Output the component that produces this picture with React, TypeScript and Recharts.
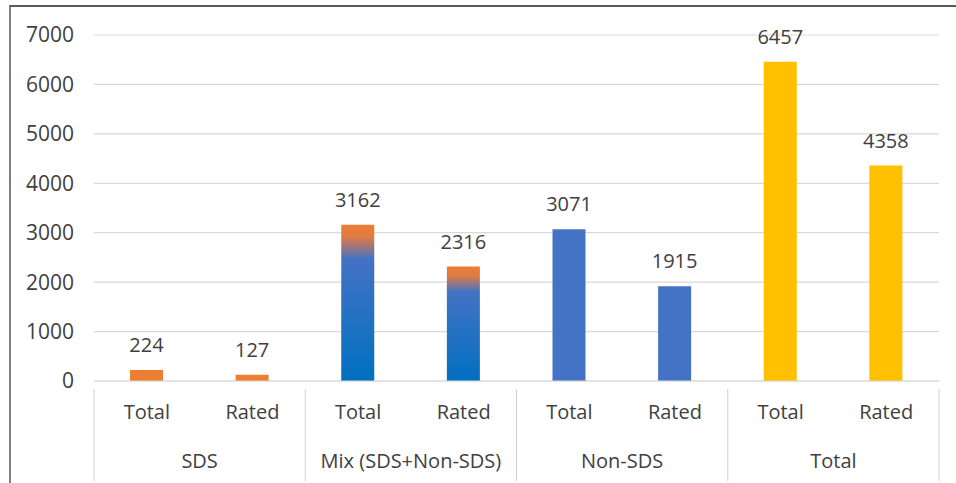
import React from 'react';
import { BarChart, Bar, XAxis, YAxis, CartesianGrid, Cell, LabelList } from 'recharts';

// Chart data
const groups = ['SDS', 'Mix (SDS+Non-SDS)', 'Non-SDS', 'Total'];
const subLabels = ['Total', 'Rated'];
const totals = [224, 3162, 3071, 6457];
const rated = [127, 2316, 1915, 4358];
const yTicks = [0, 1000, 2000, 3000, 4000, 5000, 6000, 7000];

// fills per group (Excel palette), mix uses a gradient
const FILLS = ['#ED7D31', 'url(#mixFill)', '#4472C4', '#FFC000'];

const data = groups.flatMap((g, gi) => [
  { name: subLabels[0], group: g, gi, value: totals[gi] },
  { name: subLabels[1], group: g, gi, value: rated[gi] },
]);

const W = 956;
const H = 483;
const LEFT = 94;
const RIGHT = 17;
const TOP = 35;
const BOTTOM = 102;
const BAND = (W - LEFT - RIGHT) / data.length;
const FONT = '"Open Sans", "Noto Sans", sans-serif';

const CategoryTick = (props: any) => {
  const { x, y, payload, index } = props;
  const item = data[index];
  const isFirst = index % 2 === 0;
  const left = x - BAND / 2;
  return (
    <g>
      <text x={x} y={y + 30} textAnchor="middle" fill="#404040" fontSize={20} fontFamily={FONT}>
        {payload.value}
      </text>
      {isFirst && (
        <>
          <line x1={left} y1={y} x2={left} y2={y + 92} stroke="#d0d0d0" strokeWidth={1} />
          <text x={left + BAND} y={y + 79} textAnchor="middle" fill="#404040" fontSize={20} fontFamily={FONT}>
            {item.group}
          </text>
        </>
      )}
      {index === data.length - 1 && (
        <line x1={x + BAND / 2} y1={y} x2={x + BAND / 2} y2={y + 92} stroke="#d0d0d0" strokeWidth={1} />
      )}
    </g>
  );
};

export default function App() {
  return (
    <div style={{ position: 'absolute', left: 0, top: 0, width: W, height: H, background: '#fff' }}>
      <div
        style={{
          position: 'absolute',
          left: 9,
          top: 5,
          right: 0,
          bottom: 0,
          borderTop: '2px solid #595959',
          borderLeft: '2px solid #7f7f7f',
        }}
      />
      <BarChart
        width={W}
        height={H}
        data={data}
        margin={{ top: TOP, right: RIGHT, bottom: 0, left: 0 }}
        barCategoryGap={0}
      >
        <defs>
          <linearGradient id="mixFill" x1="0" y1="0" x2="0" y2="1">
            <stop offset="0%" stopColor="#ED7D31" />
            <stop offset="8%" stopColor="#E07A45" />
            <stop offset="22%" stopColor="#4472C4" />
            <stop offset="100%" stopColor="#0070C0" />
          </linearGradient>
        </defs>
        <CartesianGrid vertical={false} stroke="#d9d9d9" strokeWidth={1.2} />
        <XAxis
          dataKey="name"
          height={BOTTOM}
          tickLine={false}
          axisLine={{ stroke: '#d9d9d9' }}
          tick={<CategoryTick />}
          interval={0}
        />
        <YAxis
          width={LEFT}
          domain={[0, 7000]}
          ticks={yTicks}
          axisLine={false}
          tickLine={false}
          tickMargin={14}
          tick={{ fill: '#404040', fontSize: 21, fontFamily: FONT }}
        />
        <Bar dataKey="value" barSize={33} isAnimationActive={false}>
          {data.map((d, i) => (
            <Cell key={`cell-${i}`} fill={FILLS[d.gi]} />
          ))}
          <LabelList
            dataKey="value"
            position="top"
            offset={18}
            fill="#404040"
            fontSize={20}
            fontFamily={FONT}
          />
        </Bar>
      </BarChart>
    </div>
  );
}
